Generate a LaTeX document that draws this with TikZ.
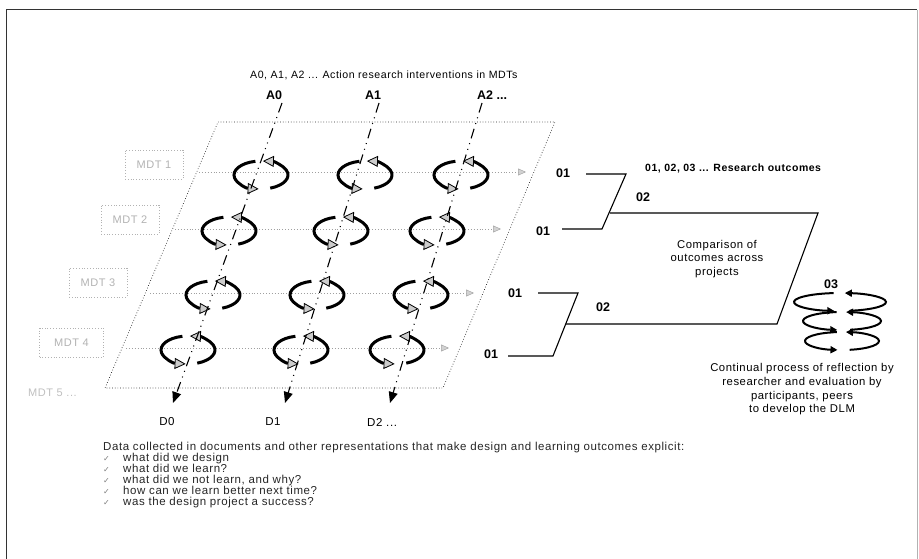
\documentclass[tikz,border=0pt]{standalone}
\usepackage{fontspec}
\setmainfont{Liberation Sans}
\newfontfamily\djv{DejaVu Sans}
\newfontfamily\lsp[LetterSpace=5]{Liberation Sans}
\usetikzlibrary{arrows.meta}
\begin{document}
\begin{tikzpicture}[x=1pt,y=-1pt,
  every node/.style={inner sep=0pt},
  framestyle/.style={line width=1pt,black!80},
  plane/.style={dotted,line width=0.7pt,black!85},
  rowline/.style={dotted,line width=0.9pt,gray!75,-{Triangle[length=8pt,width=7pt,fill=gray!35,color=gray!70,line width=0.5pt]}},
  colline/.style={line width=1.1pt,black,dash pattern=on 10pt off 5pt on 1pt off 5pt on 1pt off 5pt,-{Triangle[length=11pt,width=9pt]}},
  cycline/.style={line width=3pt,black,-{Triangle[length=11pt,width=11pt,fill=gray!40,line width=0.8pt]}},
  spline/.style={line width=2pt,black,-{Triangle[length=7pt,width=7pt]}},
  mdtbox/.style={draw=gray!60,dotted,line width=0.8pt,minimum width=58pt,minimum height=29pt,text=gray!60,font=\lsp\fontsize{11pt}{13pt}\selectfont},
  lbl/.style={font=\fontsize{12.5pt}{14pt}\selectfont\bfseries},
  small/.style={font=\lsp\fontsize{10.6pt}{12pt}\selectfont},
  body/.style={font=\lsp\fontsize{11.3pt}{13.7pt}\selectfont,align=center},
  dlbl/.style={font=\lsp\fontsize{11.5pt}{13pt}\selectfont},
  outline/.style={line width=1.1pt,black},
  cyc/.pic={
    \draw[cycline] (258:27 and 14) arc[start angle=258,end angle=95,x radius=27,y radius=14];
    \draw[cycline] (70:27 and 14) arc[start angle=70,end angle=-86,x radius=27,y radius=14];
  }]
\useasboundingbox (0,0) rectangle (919,559);
% outer frame
\draw[framestyle] (6,559) -- (6,10) -- (917,10);
\draw[line width=0.5pt,gray!60] (917,10) -- (917,559);

% titles
\node[small,anchor=west] (title) at (250,75) {A0, A1, A2 ... Action research interventions in MDTs};
\node[lbl] (A0) at (274,95) {A0};
\node[lbl] (A1) at (373,95) {A1};
\node[lbl,anchor=west] (A2) at (477,95) {A2 ...};

% plane
\coordinate (pTL) at (218,122);
\coordinate (pTR) at (555,122);
\coordinate (pBR) at (443,388);
\coordinate (pBL) at (105,388);
\draw[plane] (pTL) -- (pTR) -- (pBR) -- (pBL) -- cycle;

% MDT labels
\node[mdtbox] (m1) at (154,164.5) {MDT 1};
\node[mdtbox] (m2) at (130,219.5) {MDT 2};
\node[mdtbox] (m3) at (98,282.5) {MDT 3};
\node[mdtbox,minimum width=64pt] (m4) at (71.5,342.5) {MDT 4};
\node[anchor=west,text=gray!50,font=\lsp\fontsize{11pt}{13pt}\selectfont] (m5) at (28,393) {MDT 5 ...};

% row lines
\coordinate (r1s) at (199,172); \coordinate (r1e) at (526,172);
\coordinate (r2s) at (175,229); \coordinate (r2e) at (501,229);
\coordinate (r3s) at (150,293); \coordinate (r3e) at (474,293);
\coordinate (r4s) at (126,348); \coordinate (r4e) at (449,348);
\draw[rowline] (r1s) -- (r1e);
\draw[rowline] (r2s) -- (r2e);
\draw[rowline] (r3s) -- (r3e);
\draw[rowline] (r4s) -- (r4e);

% cycles
\pic (c11) at (261,175) {cyc};
\pic (c12) at (365,175) {cyc};
\pic (c13) at (461,175) {cyc};
\pic (c21) at (229,231) {cyc};
\pic (c22) at (341,231) {cyc};
\pic (c23) at (437,231) {cyc};
\pic (c31) at (213,295) {cyc};
\pic (c32) at (317,295) {cyc};
\pic (c33) at (421,295) {cyc};
\pic (c41) at (188,350) {cyc};
\pic (c42) at (301,350) {cyc};
\pic (c43) at (397,350) {cyc};

% column lines
\coordinate (a0t) at (282,103); \coordinate (d0t) at (173,403);
\coordinate (a1t) at (379,103); \coordinate (d1t) at (285,403);
\coordinate (a2t) at (482,103); \coordinate (d2t) at (390,403);
\draw[colline] (a0t) -- (d0t);
\draw[colline] (a1t) -- (d1t);
\draw[colline] (a2t) -- (d2t);

\node[dlbl] (D0) at (167,422) {D0};
\node[dlbl] (D1) at (273,422) {D1};
\node[dlbl,anchor=west] (D2) at (367,422) {D2 ...};

% outcomes
\node[lbl] (o1a) at (563,173) {01};
\node[lbl] (o1b) at (543,231) {01};
\node[lbl] (o1c) at (515,293) {01};
\node[lbl] (o1d) at (491,354) {01};
\node[lbl] (o2a) at (643,197) {02};
\node[lbl] (o2b) at (603,307) {02};
\node[lbl] (o3) at (831,284) {03};
\node[font=\lsp\fontsize{10.5pt}{12pt}\selectfont\bfseries,anchor=west] (legend) at (645,169) {01, 02, 03 ... Research outcomes};

\coordinate (u1) at (586,174); \coordinate (u2) at (626,174);
\coordinate (u3) at (602,229); \coordinate (u4) at (562,229);
\draw[outline] (u1) -- (u2) -- (u3) -- (u4);
\coordinate (b1) at (538,293); \coordinate (b2) at (578,293);
\coordinate (b3) at (553,356); \coordinate (b4) at (508,356);
\draw[outline] (b1) -- (b2) -- (b3) -- (b4);
\coordinate (g1) at (610,213); \coordinate (g2) at (818,213);
\coordinate (g3) at (777,324); \coordinate (g4) at (566,324);
\draw[outline] (g1) -- (g2) -- (g3) -- (g4);

\node[body] (cmp) at (717,259) {Comparison of\\outcomes across\\projects};

% spiral 03
\begin{scope}[shift={(840,302)}]
  \draw[spline] (262:46 and 9) arc[start angle=262,end angle=97,x radius=46,y radius=9];
  \draw[spline] (78:46 and 9) arc[start angle=78,end angle=-84,x radius=46,y radius=9];
\end{scope}
\begin{scope}[shift={(842,321)}]
  \draw[spline] (262:39 and 9) arc[start angle=262,end angle=97,x radius=39,y radius=9];
  \draw[spline] (78:39 and 9) arc[start angle=78,end angle=-84,x radius=39,y radius=9];
\end{scope}
\begin{scope}[shift={(842,341)}]
  \draw[spline] (262:37 and 9) arc[start angle=262,end angle=97,x radius=37,y radius=9];
  \draw[spline] (78:37 and 9) arc[start angle=78,end angle=-84,x radius=37,y radius=9];
\end{scope}

\node[body] (cont) at (802,389.5) {Continual process of reflection by\\researcher and evaluation by\\participants, peers\\to develop the DLM};

% data text
\node[anchor=north west,align=left,text=black!85,font=\lsp\fontsize{11.5pt}{11.1pt}\selectfont] (data) at (103,441.5) {Data collected in documents and other representations that make design and learning outcomes explicit:\\
\makebox[20pt][l]{\djv\color{gray}\fontsize{8pt}{9pt}\selectfont ✓}what did we design\\
\makebox[20pt][l]{\djv\color{gray}\fontsize{8pt}{9pt}\selectfont ✓}what did we learn?\\
\makebox[20pt][l]{\djv\color{gray}\fontsize{8pt}{9pt}\selectfont ✓}what did we not learn, and why?\\
\makebox[20pt][l]{\djv\color{gray}\fontsize{8pt}{9pt}\selectfont ✓}how can we learn better next time?\\
\makebox[20pt][l]{\djv\color{gray}\fontsize{8pt}{9pt}\selectfont ✓}was the design project a success?};
\end{tikzpicture}
\end{document}
